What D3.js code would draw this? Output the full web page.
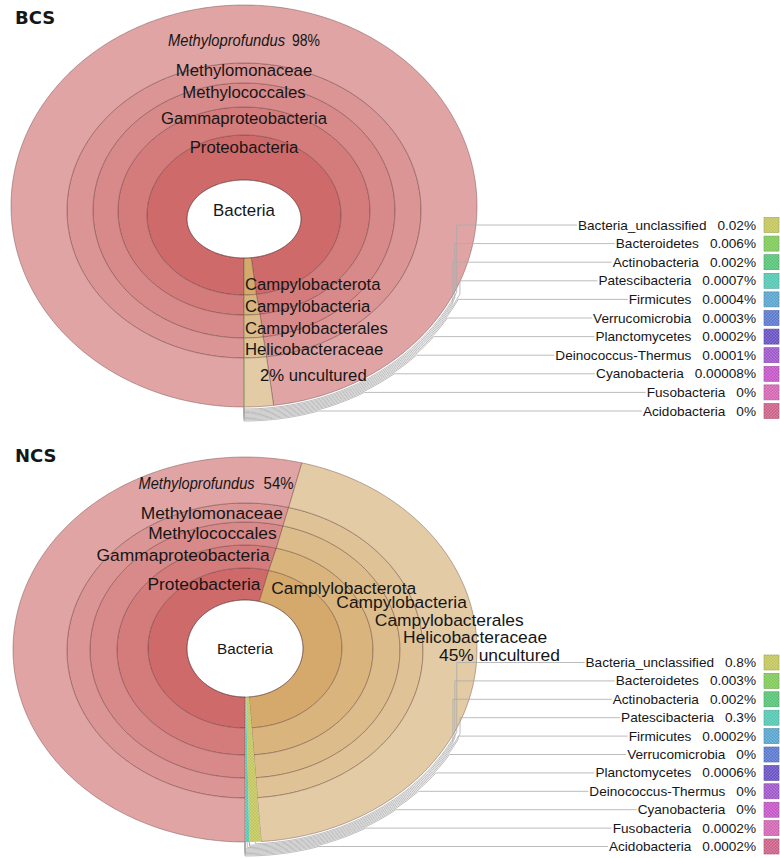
<!DOCTYPE html>
<html>
<head>
<meta charset="utf-8">
<script src="https://cdn.jsdelivr.net/npm/d3@7"></script>
<style>
  body { margin: 0; background: #fff; }
  svg text { font-family: "Liberation Sans", Arial, sans-serif; fill: #161616; }
</style>
</head>
<body>
<div id="viz-container"></div>
<script>
// ---- data (percent of reads) ----
const samples = ["BCS", "NCS"];
const proteoRanks = ["Proteobacteria", "Gammaproteobacteria", "Methylococcales", "Methylomonaceae", "Methyloprofundus"];
const campyRanksBCS = ["Campylobacterota", "Campylobacteria", "Campylobacterales", "Helicobacteraceae", "uncultured"];
const campyRanksNCS = ["Camplylobacterota", "Campylobacteria", "Campylobacterales", "Helicobacteraceae", "uncultured"];
const proteoPct = [98, 54];
const campyPct = [2, 45];

const minorPhyla = ["Bacteria_unclassified", "Bacteroidetes", "Actinobacteria", "Patescibacteria", "Firmicutes",
  "Verrucomicrobia", "Planctomycetes", "Deinococcus-Thermus", "Cyanobacteria", "Fusobacteria", "Acidobacteria"];
const minorBCS = [0.02, 0.006, 0.002, 0.0007, 0.0004, 0.0003, 0.0002, 0.0001, 0.00008, 0, 0];
const minorNCS = [0.8, 0.003, 0.002, 0.3, 0.0002, 0, 0.0006, 0, 0, 0.0002, 0.0002];
const minorColors = ["#c2c65c", "#7fca58", "#58c478", "#55c8b4", "#58a5cf", "#5b79cf", "#6952c3",
  "#a057cb", "#c556c7", "#d466b4", "#cd6288"];

const proteoColors = ["#cf6a6a", "#d47b7b", "#d88a8a", "#dc9595", "#e0a4a4"];
const campyColors = ["#d4a96b", "#d9b47d", "#dcbc8a", "#dfc396", "#e3cba6"];

// ---- layout of each krona panel (ellipses, inner hole first) ----
const layout = {
  BCS: {
    cx: 244, rx: [57, 97, 126, 151, 177, 233], ry: [39, 80, 104, 127.5, 147.5, 201],
    cy: [219, 215, 211, 210.5, 210.5, 206],
    title: [15, 24], centerY: 210, centerFs: 16.9, fs: 16.7,
    frac: [0.65, 0.5, 0.5, 0.5, 0.33], dy: -3, genusLen: [117, 28], genusGap: 7,
    legendY: 225, legendStep: 18.6
  },
  NCS: {
    cx: 245, rx: [58, 97, 128, 155, 178, 232], ry: [48.5, 80, 105, 128, 147.5, 192.5],
    cy: [648.5, 648, 650, 650, 650.5, 649.5],
    title: [15, 462], centerY: 648, centerFs: 15.3, fs: 17.4,
    frac: [0.45, 0.5, 0.5, 0.5, 0.45], dy: -4, genusLen: [116, 30], genusGap: 9,
    campyAngles: [27, 62, 77, 86, 93],
    legendY: 662.5, legendStep: 18.4
  }
};

const W = 780, H = 858;
let svg = d3.select("#viz-container").append("svg")
  .attr("width", W).attr("height", H);

// subtle cross hatch like the krona key boxes
let pat = svg.append("defs").append("pattern")
  .attr("id", "hatch").attr("width", 3).attr("height", 3)
  .attr("patternUnits", "userSpaceOnUse");
pat.append("path").attr("d", "M0,0L3,3M3,0L0,3")
  .attr("stroke", "rgba(255,255,255,0.22)").attr("stroke-width", 0.6);

// point on boundary k (may be fractional) at angle a (clockwise from top)
function pt(g, k, a) {
  let k0 = Math.floor(k), k1 = Math.min(k0 + 1, g.rx.length - 1), f = k - k0;
  let rx = g.rx[k0] + (g.rx[k1] - g.rx[k0]) * f;
  let ry = g.ry[k0] + (g.ry[k1] - g.ry[k0]) * f;
  let cy = g.cy[k0] + (g.cy[k1] - g.cy[k0]) * f;
  return [g.cx + rx * Math.sin(a), cy - ry * Math.cos(a)];
}

function ringPath(g, k0, k1, a0, a1) {
  let n = Math.max(2, Math.ceil((a1 - a0) / 0.015) + 1);
  let as = d3.range(n).map(i => a0 + (a1 - a0) * i / (n - 1));
  let pts = as.map(a => pt(g, k1, a)).concat(as.slice().reverse().map(a => pt(g, k0, a)));
  return d3.line()(pts) + "Z";
}

function drawPanel(name, si) {
  let g = layout[name];
  let campyRanks = si == 0 ? campyRanksBCS : campyRanksNCS;
  let minor = si == 0 ? minorBCS : minorNCS;

  let segs = [
    { name: "Proteobacteria", v: proteoPct[si], ranks: proteoRanks, colors: proteoColors },
    { name: "Campylobacterota", v: campyPct[si], ranks: campyRanks, colors: campyColors }
  ];
  minorPhyla.forEach((p, i) => segs.push({ name: p, v: minor[i], color: minorColors[i], minor: i }));

  let total = d3.sum(segs, d => d.v);
  let angle = d3.scaleLinear().domain([0, total]).range([Math.PI, 3 * Math.PI]);
  let acc = 0;
  segs.forEach(d => { d.a0 = angle(acc); acc += d.v; d.a1 = angle(acc); });

  let panel = svg.append("g").attr("class", "panel-" + name);

  // wedges
  segs.forEach(d => {
    if (d.a1 - d.a0 < 1e-5) return;
    if (d.ranks) {
      d.ranks.forEach((r, L) => {
        panel.append("path")
          .attr("d", ringPath(g, L, L + 1, d.a0, d.a1))
          .attr("fill", d.colors[L])
          .attr("stroke", "rgba(90,50,50,0.55)")
          .attr("stroke-width", 0.7);
      });
    } else {
      panel.append("path")
        .attr("d", ringPath(g, 0, 5, d.a0, d.a1))
        .attr("fill", d.color);
      panel.append("path")
        .attr("d", ringPath(g, 0, 5, d.a0, d.a1))
        .attr("fill", "url(#hatch)");
    }
  });

  // hole
  panel.append("path")
    .attr("d", ringPath(g, 0, 0.001, 0, 2 * Math.PI))
    .attr("fill", "#fff")
    .attr("stroke", "rgba(90,50,50,0.4)").attr("stroke-width", 0.6);

  // key (legend) + leader lines
  let minors = segs.filter(d => d.minor != null);
  minors.forEach((d, i) => {
    let y = g.legendY + i * g.legendStep;
    let pctT = panel.append("text")
      .attr("x", 756).attr("y", y)
      .attr("dominant-baseline", "central")
      .attr("text-anchor", "end")
      .attr("font-size", 13.6)
      .text(d.v + "%");
    let pw = pctT.node().getComputedTextLength();
    let nameT = panel.append("text")
      .attr("x", 756 - pw - 11).attr("y", y)
      .attr("dominant-baseline", "central")
      .attr("text-anchor", "end")
      .attr("font-size", 13.6)
      .text(d.name);
    let xt = 756 - pw - 11 - nameT.node().getComputedTextLength() - 1;

    panel.append("rect")
      .attr("x", 764).attr("y", y - 7.5).attr("width", 15).attr("height", 15)
      .attr("fill", d.color)
      .attr("stroke", d3.color(d.color).darker(0.6)).attr("stroke-width", 0.6);
    panel.append("rect")
      .attr("x", 764).attr("y", y - 7.5).attr("width", 15).attr("height", 15)
      .attr("fill", "url(#hatch)");

    // path from key to the wedge, hugging the outside of the ellipse
    let off = 2 + i * 1.2;
    let Rx = g.rx[5] + off, Ry = g.ry[5] + off, cy = g.cy[5];
    let am = (d.a0 + d.a1) / 2 - 2 * Math.PI;
    let ty = Math.acos(Math.max(-1, Math.min(1, (cy - y) / Ry)));
    let xc = g.cx + Rx * 0.905 - (i % 3) * 3;
    let tx = Math.PI - Math.asin(Math.min(1, (xc - g.cx) / Rx));
    let pts = [[xt, y]];
    let start;
    if (tx > ty) {
      pts.push([xc, y]);
      pts.push([xc, cy - Ry * Math.cos(tx)]);
      start = tx;
    } else {
      start = ty;
    }
    let n = 40;
    d3.range(n + 1).forEach(k => {
      let a = start + (am - start) * k / n;
      pts.push([g.cx + Rx * Math.sin(a), cy - Ry * Math.cos(a)]);
    });
    pts.push(pt(g, 5, am));
    panel.append("path")
      .attr("d", d3.line()(pts))
      .attr("fill", "none")
      .attr("stroke", "#ababab")
      .attr("stroke-width", 0.8);
  });

  // labels
  panel.append("text")
    .attr("x", g.cx).attr("y", g.centerY)
    .attr("text-anchor", "middle").attr("dominant-baseline", "central")
    .attr("font-size", g.centerFs)
    .text("Bacteria");

  // genus label: italic name + percent, condensed like the original
  function genusLabel(text, pctText, x, y, anchor) {
    let total = g.genusLen[0] + g.genusGap + g.genusLen[1];
    let x0 = anchor == "middle" ? x - total / 2 : x - total;
    panel.append("text")
      .attr("x", x0).attr("y", y)
      .attr("dominant-baseline", "central")
      .attr("font-size", g.fs).attr("font-style", "italic")
      .attr("textLength", g.genusLen[0]).attr("lengthAdjust", "spacingAndGlyphs")
      .text(text);
    panel.append("text")
      .attr("x", x0 + g.genusLen[0] + g.genusGap).attr("y", y)
      .attr("dominant-baseline", "central")
      .attr("font-size", g.fs)
      .attr("textLength", g.genusLen[1]).attr("lengthAdjust", "spacingAndGlyphs")
      .text(pctText);
  }

  function rankLabel(text, L, a, anchor, dx) {
    let p = pt(g, L + g.frac[L], a);
    panel.append("text")
      .attr("x", p[0] + dx).attr("y", p[1] + g.dy)
      .attr("text-anchor", anchor).attr("dominant-baseline", "central")
      .attr("font-size", g.fs)
      .text(text);
  }

  let P = segs[0], C = segs[1];
  if (name == "BCS") {
    P.ranks.forEach((r, L) => {
      if (L == 4) {
        let p = pt(g, L + g.frac[L], 2 * Math.PI);
        genusLabel(r, P.v + "%", p[0], p[1] + g.dy, "middle");
      } else {
        rankLabel(r, L, 2 * Math.PI, "middle", 0);
      }
    });
    C.ranks.forEach((r, L) => {
      let p = pt(g, L + g.frac[L], Math.PI);
      panel.append("text")
        .attr("x", L == 4 ? p[0] + 16 : p[0] + 1)
        .attr("y", p[1] + (L == 0 ? 2 : 1.5))
        .attr("dominant-baseline", "central")
        .attr("font-size", g.fs)
        .text(L == 4 ? C.v + "% " + r : r);
    });
  } else {
    let boundary = P.a1 - 2 * Math.PI;
    P.ranks.forEach((r, L) => {
      if (L == 4) {
        let p = pt(g, L + g.frac[L], boundary);
        genusLabel(r, P.v + "%", p[0] - 1, p[1] + g.dy, "end");
      } else {
        rankLabel(r, L, boundary, "end", -3);
      }
    });
    C.ranks.forEach((r, L) => rankLabel(L == 4 ? C.v + "% " + r : r, L,
      g.campyAngles[L] * Math.PI / 180, "start", -8));
  }

  // panel title
  svg.append("text")
    .attr("x", g.title[0]).attr("y", g.title[1])
    .attr("font-size", 18).attr("font-weight", "bold")
    .style("font-family", "'DejaVu Sans', Verdana, sans-serif")
    .text(name);
}

samples.forEach(drawPanel);
</script>
</body>
</html>
